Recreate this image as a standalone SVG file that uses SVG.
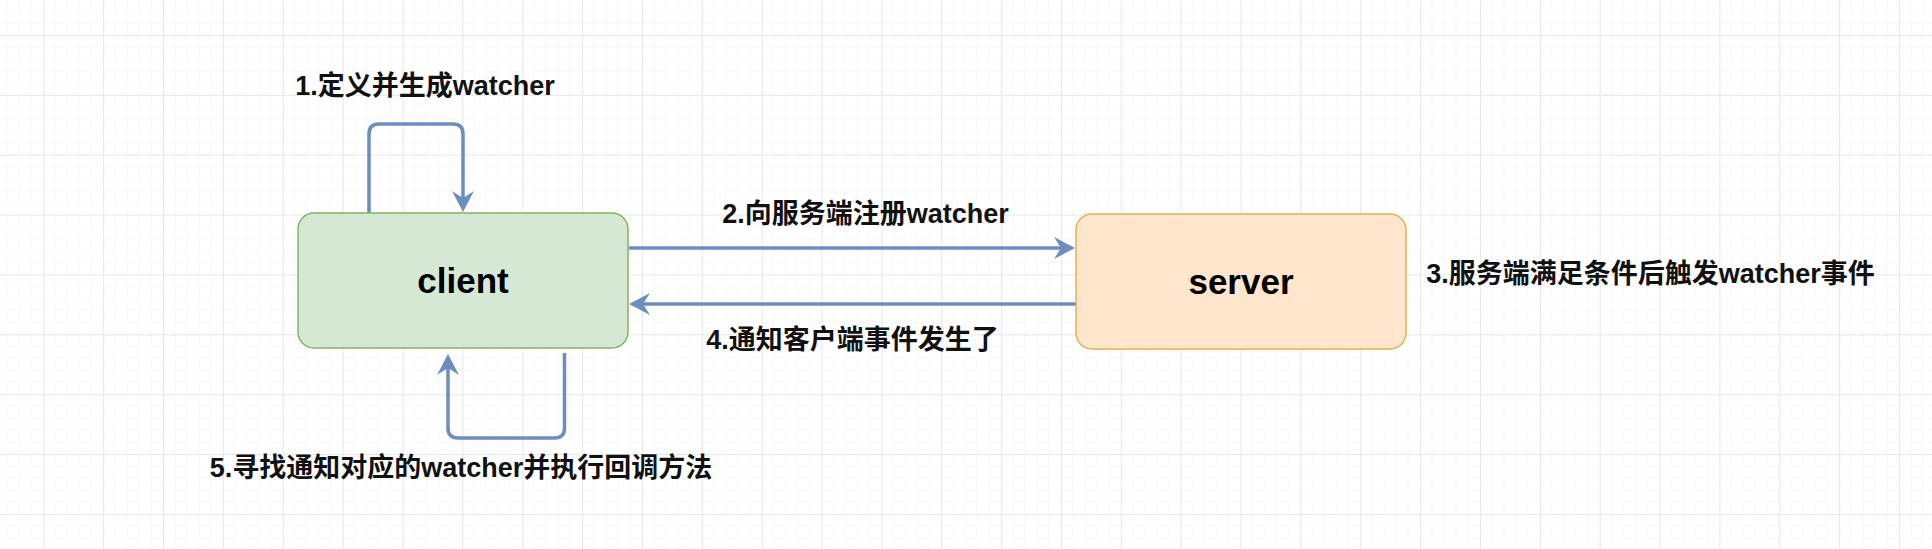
<svg xmlns="http://www.w3.org/2000/svg" width="1932" height="549" viewBox="0 0 1932 549">
  <defs>
    <pattern id="grid" patternUnits="userSpaceOnUse" x="43.3" y="35" width="59.86" height="59.86">
      <path d="M11.97,0 V59.86 M23.94,0 V59.86 M35.92,0 V59.86 M47.89,0 V59.86 M0,11.97 H59.86 M0,23.94 H59.86 M0,35.92 H59.86 M0,47.89 H59.86" stroke="#f7f7f7" stroke-width="1" fill="none"/>
      <path d="M0.5,0 V59.86 M0,0.5 H59.86" stroke="#e8e8e8" stroke-width="1.2" fill="none"/>
    </pattern>
    <marker id="arrow" viewBox="-22 -12 24 24" refX="-14" refY="0" markerWidth="24" markerHeight="24" markerUnits="userSpaceOnUse" orient="auto">
      <path d="M0,0 L-21,-11 L-14,0 L-21,11 Z" fill="#6c8ebf"/>
    </marker>
    <style>
      .box-text { font-family: "Liberation Sans", "Noto Sans CJK SC", sans-serif; font-weight: bold; font-size: 35px; fill: #000; text-anchor: middle; }
      .label { font-family: "Liberation Sans", "Noto Sans CJK SC", sans-serif; font-weight: bold; font-size: 27px; fill: #111; text-anchor: middle; }
      .conn { fill: none; stroke: #6c8ebf; stroke-width: 3.5; marker-end: url(#arrow); }
    </style>
  </defs>
  <rect x="0" y="0" width="1932" height="549" fill="#ffffff"/>
  <rect x="0" y="0" width="1932" height="549" fill="url(#grid)"/>

  <g id="connectors">
    <path class="conn" d="M369,213 V134 Q369,124 379,124 H453 Q463,124 463,134 V198"/>
    <path class="conn" d="M629,248 H1061"/>
    <path class="conn" d="M1076,304 H643"/>
    <path class="conn" d="M564.5,353 V428 Q564.5,438 554.5,438 H458 Q448,438 448,428 V368"/>
  </g>

  <g id="client">
    <rect x="298" y="213" width="330" height="135" rx="16" ry="16" fill="#d5e8d4" stroke="#82b366" stroke-width="1.5"/>
    <text class="box-text" x="463" y="293">client</text>
  </g>

  <g id="server">
    <rect x="1076" y="214" width="330" height="135" rx="16" ry="16" fill="#ffe6cc" stroke="#e3b050" stroke-width="1.5"/>
    <text class="box-text" x="1241" y="294">server</text>
  </g>

  <g id="labels">
    <text class="label" x="425" y="95">1.定义并生成watcher</text>
    <text class="label" x="865.5" y="223">2.向服务端注册watcher</text>
    <text class="label" x="1650.5" y="283">3.服务端满足条件后触发watcher事件</text>
    <text class="label" x="852.5" y="349">4.通知客户端事件发生了</text>
    <text class="label" x="461" y="477">5.寻找通知对应的watcher并执行回调方法</text>
  </g>
</svg>
